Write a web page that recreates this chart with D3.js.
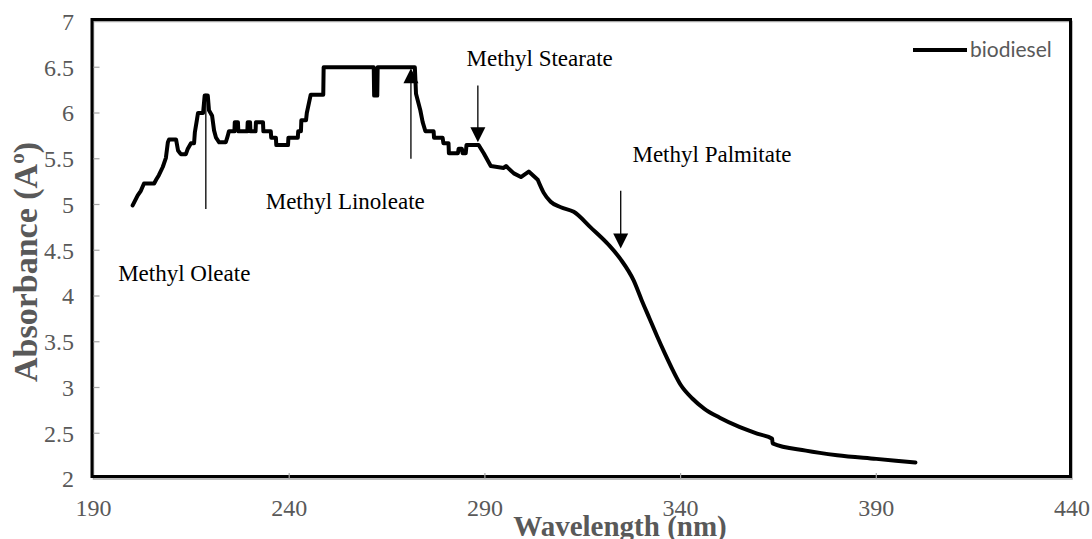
<!DOCTYPE html>
<html>
<head>
<meta charset="utf-8">
<script src="https://cdn.jsdelivr.net/npm/d3@7"></script>
<style>
  html, body { margin: 0; padding: 0; background: #fff; overflow: hidden; }
  svg { display: block; }
</style>
</head>
<body>
<script>
var width = 1092
var height = 539

// spectrum (wavelength in nm, absorbance)
var wavelength = [
  200.0, 201.3, 202.1, 202.9, 205.5, 206.0, 206.7, 207.7, 208.5, 209.0,
  209.3, 211.1, 211.6, 212.3, 213.6, 214.1, 214.9, 215.7, 215.9, 216.4,
  216.7, 218.0, 218.4, 219.2, 219.5, 220.3, 220.8, 221.3, 222.1, 223.8,
  224.3, 224.6, 226.0, 226.1, 226.9, 227.0, 229.3, 229.4, 230.0, 230.1,
  231.4, 231.5, 233.3, 233.4, 235.3, 235.4, 236.6, 236.7, 239.7, 239.8,
  242.2, 242.3, 243.0, 243.1, 244.3, 244.5, 245.5, 248.7, 248.8, 261.6,
  261.7, 262.5, 262.6, 272.1, 272.4, 273.5, 274.1, 274.8, 276.9, 277.0,
  279.2, 279.4, 280.7, 280.8, 283.1, 283.3, 284.1, 284.3, 285.1, 285.3,
  288.4, 289.7, 291.5, 294.8, 295.4, 297.4, 299.2, 301.2, 303.5,
  305.0, 306.8, 309.4, 312.7, 317.0, 321.6, 324.7, 328.0, 330.0, 332.0,
  334.0, 336.0, 338.0, 340.0, 343.0, 346.0, 350.0, 355.0, 360.0, 363.4,
  363.5, 372.0, 380.0, 390.0, 400.0
]
var absorbance = [
  4.99, 5.10, 5.15, 5.23, 5.23, 5.27, 5.32, 5.41, 5.51, 5.68,
  5.71, 5.71, 5.59, 5.55, 5.55, 5.61, 5.67, 5.67, 5.79, 5.92,
  6.00, 6.00, 6.19, 6.19, 6.03, 5.97, 5.81, 5.73, 5.68, 5.68,
  5.75, 5.80, 5.80, 5.90, 5.90, 5.80, 5.80, 5.90, 5.90, 5.80,
  5.80, 5.90, 5.90, 5.80, 5.80, 5.73, 5.73, 5.65, 5.65, 5.73,
  5.73, 5.80, 5.80, 5.92, 5.92, 6.00, 6.20, 6.20, 6.50, 6.50,
  6.19, 6.19, 6.50, 6.50, 6.21, 6.03, 5.90, 5.80, 5.80, 5.73,
  5.73, 5.67, 5.67, 5.56, 5.56, 5.61, 5.61, 5.56, 5.56, 5.65,
  5.65, 5.56, 5.42, 5.40, 5.42, 5.34, 5.30, 5.36, 5.27,
  5.13, 5.03, 4.97, 4.92, 4.75, 4.56, 4.40, 4.17, 3.96, 3.76,
  3.56, 3.37, 3.19, 3.03, 2.88, 2.77, 2.67, 2.57, 2.49, 2.44,
  2.39, 2.31, 2.26, 2.22, 2.18
]
// the stepped (noisy) part ends here, the rest is smooth
var smoothFrom = 303.5

var xTicks = [190, 240, 290, 340, 390, 440]
var yTicks = [2, 2.5, 3, 3.5, 4, 4.5, 5, 5.5, 6, 6.5, 7]

// annotations: label, text anchor point, pointer from/to (data units)
var notes = [
  {label: 'Methyl Oleate',    tx: 196.3, ty: 4.16, x: 218.7, y1: 6.21, y2: 4.95, head: false},
  {label: 'Methyl Linoleate', tx: 234.0, ty: 4.95, x: 271.1, y1: 5.50, y2: 6.49, head: true},
  {label: 'Methyl Stearate',  tx: 285.3, ty: 6.51, x: 288.2, y1: 6.30, y2: 5.68, head: true},
  {label: 'Methyl Palmitate', tx: 327.7, ty: 5.46, x: 324.7, y1: 5.15, y2: 4.52, head: true}
]

var x = d3.scaleLinear()
    .domain([190, 440])
    .range([93.5, 1072])

var y = d3.scaleLinear()
    .domain([2, 7])
    .range([479, 21.5])

var svg = d3.select('body').append('svg')
    .attr('width', width)
    .attr('height', height)

var grey = '#595959'
var serif = '"Liberation Serif", "Times New Roman", serif'

// frame: grey plot-area border, black box sitting a bit up/left of it
svg.append('rect')
    .attr('x', x(190))
    .attr('y', y(7))
    .attr('width', x(440) - x(190))
    .attr('height', y(2) - y(7))
    .style('fill', 'none')
    .style('stroke', '#a6a6a6')
    .style('stroke-width', 1.5)

svg.append('rect')
    .attr('x', x(190) - 1.5)
    .attr('y', y(7) - 2)
    .attr('width', x(440) - x(190))
    .attr('height', y(2) - y(7) - 0.5)
    .style('fill', 'none')
    .style('stroke', '#000')
    .style('stroke-width', 3)

// tick marks (inside)
svg.selectAll('.xt')
    .data(xTicks.slice(1, -1))
  .enter().append('line')
    .attr('x1', function (d) {return x(d)})
    .attr('x2', function (d) {return x(d)})
    .attr('y1', y(2))
    .attr('y2', y(2) - 6)
    .style('stroke', '#a6a6a6')
    .style('stroke-width', 1.2)

svg.selectAll('.yt')
    .data(yTicks.slice(1, -1))
  .enter().append('line')
    .attr('x1', x(190))
    .attr('x2', x(190) + 6)
    .attr('y1', function (d) {return y(d)})
    .attr('y2', function (d) {return y(d)})
    .style('stroke', '#a6a6a6')
    .style('stroke-width', 1.2)

// tick labels
svg.selectAll('.xl')
    .data(xTicks)
  .enter().append('text')
    .attr('x', function (d) {return x(d)})
    .attr('y', 516)
    .attr('text-anchor', 'middle')
    .style('font-family', serif)
    .style('font-size', '24px')
    .style('fill', grey)
    .text(function (d) {return d})

svg.selectAll('.yl')
    .data(yTicks)
  .enter().append('text')
    .attr('x', 74)
    .attr('y', function (d) {return y(d)})
    .attr('dy', '0.35em')
    .attr('text-anchor', 'end')
    .style('font-family', serif)
    .style('font-size', '24px')
    .style('fill', grey)
    .text(function (d) {return d})

// axis titles
svg.append('text')
    .attr('x', 620)
    .attr('y', 536)
    .attr('text-anchor', 'middle')
    .style('font-family', serif)
    .style('font-weight', 'bold')
    .style('font-size', '29px')
    .style('fill', grey)
    .text('Wavelength (nm)')

var yt = svg.append('text')
    .attr('transform', 'translate(37,' + 262 + ') rotate(-90)')
    .attr('text-anchor', 'middle')
    .style('font-family', serif)
    .style('font-weight', 'bold')
    .style('font-size', '34px')
    .style('fill', grey)
yt.append('tspan').text('Absorbance (A')
yt.append('tspan').attr('dy', -13).style('font-size', '21px').text('o')
yt.append('tspan').attr('dy', 13).text(')')

// spectrum
var pts = wavelength.map(function (d, i) {return [d, absorbance[i]]})
var stepped = pts.filter(function (d) {return d[0] <= smoothFrom})
var smooth = pts.filter(function (d) {return d[0] >= smoothFrom})

var lineStep = d3.line()
    .x(function (d) {return x(d[0])})
    .y(function (d) {return y(d[1])})
    .curve(d3.curveLinear)

var lineSmooth = d3.line()
    .x(function (d) {return x(d[0])})
    .y(function (d) {return y(d[1])})
    .curve(d3.curveMonotoneX)

svg.append('path')
    .attr('d', lineStep(stepped) + lineSmooth(smooth).replace(/^M/, 'L'))
    .style('fill', 'none')
    .style('stroke', '#000')
    .style('stroke-width', 4)
    .style('stroke-linejoin', 'round')
    .style('stroke-linecap', 'round')

// annotations
notes.forEach(function (n) {
  var tip = y(n.y2)
  var dir = n.y2 > n.y1 ? 1 : -1 // 1 = pointing up
  svg.append('line')
      .attr('x1', x(n.x))
      .attr('x2', x(n.x))
      .attr('y1', y(n.y1))
      .attr('y2', n.head ? tip + dir * 12 : tip)
      .style('stroke', '#000')
      .style('stroke-width', 1.3)
  if (n.head) {
    var cx = x(n.x)
    svg.append('path')
        .attr('d', 'M' + cx + ',' + tip +
          'L' + (cx - 7.5) + ',' + (tip + dir * 15) +
          'L' + (cx + 7.5) + ',' + (tip + dir * 15) + 'Z')
        .style('fill', '#000')
  }
  svg.append('text')
      .attr('x', x(n.tx))
      .attr('y', y(n.ty))
      .style('font-family', serif)
      .style('font-size', '23px')
      .style('fill', '#000')
      .text(n.label)
})

// legend
svg.append('line')
    .attr('x1', 913)
    .attr('x2', 967)
    .attr('y1', 50)
    .attr('y2', 50)
    .style('stroke', '#000')
    .style('stroke-width', 4)

svg.append('text')
    .attr('x', 970)
    .attr('y', 50)
    .attr('dy', '0.35em')
    .style('font-family', 'Lato, "Open Sans", sans-serif')
    .style('font-size', '21px')
    .style('fill', grey)
    .text('biodiesel')
</script>
</body>
</html>
